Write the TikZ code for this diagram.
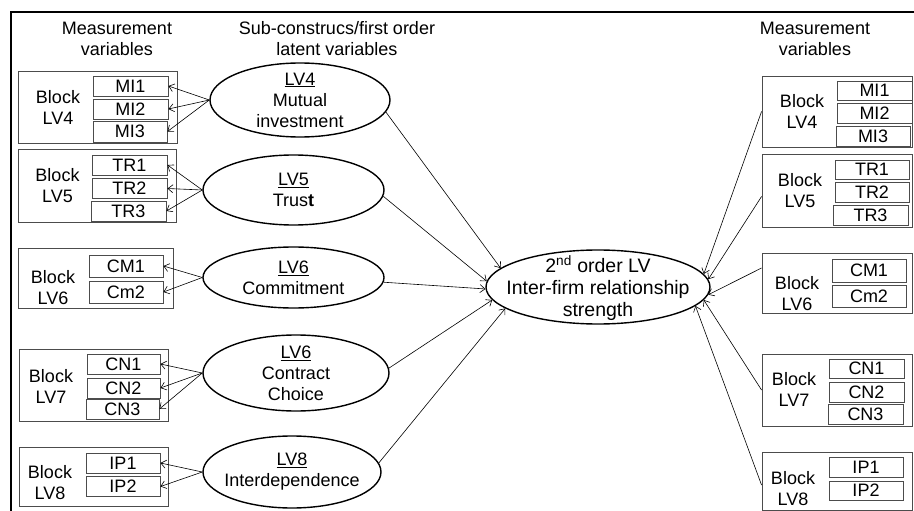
\documentclass[tikz,border=0pt]{standalone}
\usepackage{fontspec}
\setmainfont{Liberation Sans}
\usetikzlibrary{shapes.geometric,arrows.meta}
\begin{document}
\begin{tikzpicture}[x=1pt,y=-1pt,
  txt/.style={inner sep=0pt, align=center, font=\fontsize{18}{21}\selectfont},
  bigtxt/.style={inner sep=0pt, align=center, font=\fontsize{19.5}{22}\selectfont},
  blockbox/.style={draw=black!70, line width=0.9pt, inner sep=0pt},
  item/.style={draw=black!70, line width=0.9pt, inner sep=0pt, minimum width=75pt,
    minimum height=20pt, font=\fontsize{18}{21}\selectfont},
  lv/.style={ellipse, draw, line width=1.4pt, inner sep=0pt},
  link/.style={-{Straight Barb[length=5pt,width=8pt]}, line width=0.6pt}]
\useasboundingbox (0,0) rectangle (914,511);

% outer frame (left and top edges)
\draw[line width=2pt] (11,511) -- (11,12) -- (914,12);

% headings
\node[txt] (hL) at (117,39) {Measurement\\variables};
\node[txt] (hM) at (337,39) {Sub-construcs/first order\\latent variables};
\node[txt] (hR) at (815,39) {Measurement\\variables};

% ---------- left measurement blocks ----------
\node[blockbox, minimum width=159pt, minimum height=72pt] (lb4) at (97.5,107) {};
\node[txt] (lb4t) at (58,107.5) {Block\\LV4};
\node[item] (lmi1) at (130.5,86) {MI1};
\node[item] (lmi2) at (130.5,109) {MI2};
\node[item, minimum width=74pt, minimum height=21pt] (lmi3) at (130,131.5) {MI3};

\node[blockbox, minimum width=158pt, minimum height=73pt] (lb5) at (97,185.5) {};
\node[txt] (lb5t) at (57.5,186) {Block\\LV5};
\node[item] (ltr1) at (129.5,165) {TR1};
\node[item] (ltr2) at (129.5,188.5) {TR2};
\node[item] (ltr3) at (128.5,211) {TR3};

\node[blockbox, minimum width=155pt, minimum height=60pt] (lb6) at (95.5,278) {};
\node[txt] (lb6t) at (53,288) {Block\\LV6};
\node[item, minimum width=74pt, minimum height=22pt] (lcm1) at (126,266) {CM1};
\node[item, minimum width=74pt, minimum height=22pt] (lcm2) at (126,292) {Cm2};

\node[blockbox, minimum width=149pt, minimum height=72pt] (lb7) at (93.5,385) {};
\node[txt] (lb7t) at (51,386) {Block\\LV7};
\node[item, minimum width=73pt] (lcn1) at (123.5,364) {CN1};
\node[item, minimum width=73pt] (lcn2) at (123.5,388) {CN2};
\node[item, minimum width=73pt] (lcn3) at (122.5,409) {CN3};

\node[blockbox, minimum width=149pt, minimum height=59pt] (lb8) at (93.5,476.5) {};
\node[txt] (lb8t) at (50,483) {Block\\LV8};
\node[item, minimum width=74pt] (lip1) at (123,463) {IP1};
\node[item, minimum width=74pt] (lip2) at (123,486.5) {IP2};

% ---------- first order latent variables ----------
\node[lv, minimum width=180pt, minimum height=74pt] (e4) at (300,100) {};
\node[txt] (e4t) at (300,100) {\underline{LV4}\\Mutual\\investment};
\node[lv, minimum width=181pt, minimum height=70pt] (e5) at (293.5,190) {};
\node[txt] (e5t) at (293.5,190) {\underline{LV5}\\Trus\textbf{t}};
\node[lv, minimum width=181pt, minimum height=61pt] (e6) at (293.5,277.5) {};
\node[txt] (e6t) at (293.5,277.5) {\underline{LV6}\\Commitment};
\node[lv, minimum width=186pt, minimum height=76pt] (e7) at (296,373) {};
\node[txt] (e7t) at (296,373) {\underline{LV6}\\Contract\\Choice};
\node[lv, minimum width=178pt, minimum height=72pt] (e8) at (292,472) {};
\node[txt] (e8t) at (292,472) {\underline{LV8}\\Interdependence};

% ---------- second order latent variable ----------
\node[lv, minimum width=224pt, minimum height=74pt] (c) at (598,287) {};
\node[bigtxt] (ct) at (598,288) {2\textsuperscript{nd} order LV\\Inter-firm relationship\\strength};

% ---------- right measurement blocks ----------
\node[blockbox, minimum width=150pt, minimum height=71pt] (rb4) at (837,111.5) {};
\node[txt] (rb4t) at (802,111) {Block\\LV4};
\node[item, minimum height=19pt] (rmi1) at (874.5,90.5) {MI1};
\node[item] (rmi2) at (874.5,113) {MI2};
\node[item, minimum width=74pt] (rmi3) at (873,136) {MI3};

\node[blockbox, minimum width=150pt, minimum height=73pt] (rb5) at (837,190.5) {};
\node[txt] (rb5t) at (800,191) {Block\\LV5};
\node[item, minimum width=74pt, minimum height=19pt] (rtr1) at (872,169.5) {TR1};
\node[item, minimum width=74pt] (rtr2) at (872,192.5) {TR2};
\node[item] (rtr3) at (870.5,215) {TR3};

\node[blockbox, minimum width=150pt, minimum height=60pt] (rb6) at (837,283) {};
\node[txt] (rb6t) at (797,294) {Block\\LV6};
\node[item, minimum width=74pt, minimum height=23pt] (rcm1) at (869,270.5) {CM1};
\node[item, minimum width=74pt, minimum height=22pt] (rcm2) at (869,296) {Cm2};

\node[blockbox, minimum width=150pt, minimum height=72pt] (rb7) at (837,390) {};
\node[txt] (rb7t) at (794,389) {Block\\LV7};
\node[item, minimum height=19pt] (rcn1) at (866.5,368.5) {CN1};
\node[item] (rcn2) at (866.5,392) {CN2};
\node[item] (rcn3) at (865.5,414) {CN3};

\node[blockbox, minimum width=150pt, minimum height=58pt] (rb8) at (837,481) {};
\node[txt] (rb8t) at (793,489) {Block\\LV8};
\node[item, minimum width=74pt] (rip1) at (866,467) {IP1};
\node[item, minimum width=74pt, minimum height=19pt] (rip2) at (866,490.5) {IP2};

% ---------- loadings: first order LVs to their indicators ----------
\draw[link] (e4.west) -- (lmi1.east);
\draw[link] (e4.west) -- (lmi2.east);
\draw[link] (e4.west) -- (lmi3.east);
\draw[link] (e5.west) -- (ltr1.east);
\draw[link] (e5.west) -- (ltr2.east);
\draw[link] (e5.west) -- (ltr3.east);
\draw[link] (e6.west) -- (lcm1.east);
\draw[link] (e6.west) -- (lcm2.east);
\draw[link] (e7.west) -- (lcn1.east);
\draw[link] (e7.west) -- (lcn2.east);
\draw[link] (e7.west) -- (lcn3.east);
\draw[link] (e8.west) -- (lip1.east);
\draw[link] (e8.west) -- (lip2.east);

% ---------- first order LVs to the second order LV ----------
\draw[link] (e4.-8) -- (c.169);
\draw[link] (e5.-4) -- (c.177);
\draw[link] (e6.-3) -- (c.181);
\draw[link] (e7.3) -- (c.187);
\draw[link] (e8.6) -- (c.193);

% ---------- right blocks to the second order LV ----------
\draw[link] (rb4.west) -- (c.7);
\draw[link] ([yshift=-6pt]rb5.west) -- (c.4);
\draw[link] ([yshift=15pt]rb6.west) -- (c.-4);
\draw[link] (rb7.west) -- (c.-7);
\draw[link] ([yshift=-4pt]rb8.west) -- (c.-11);
\end{tikzpicture}
\end{document}
